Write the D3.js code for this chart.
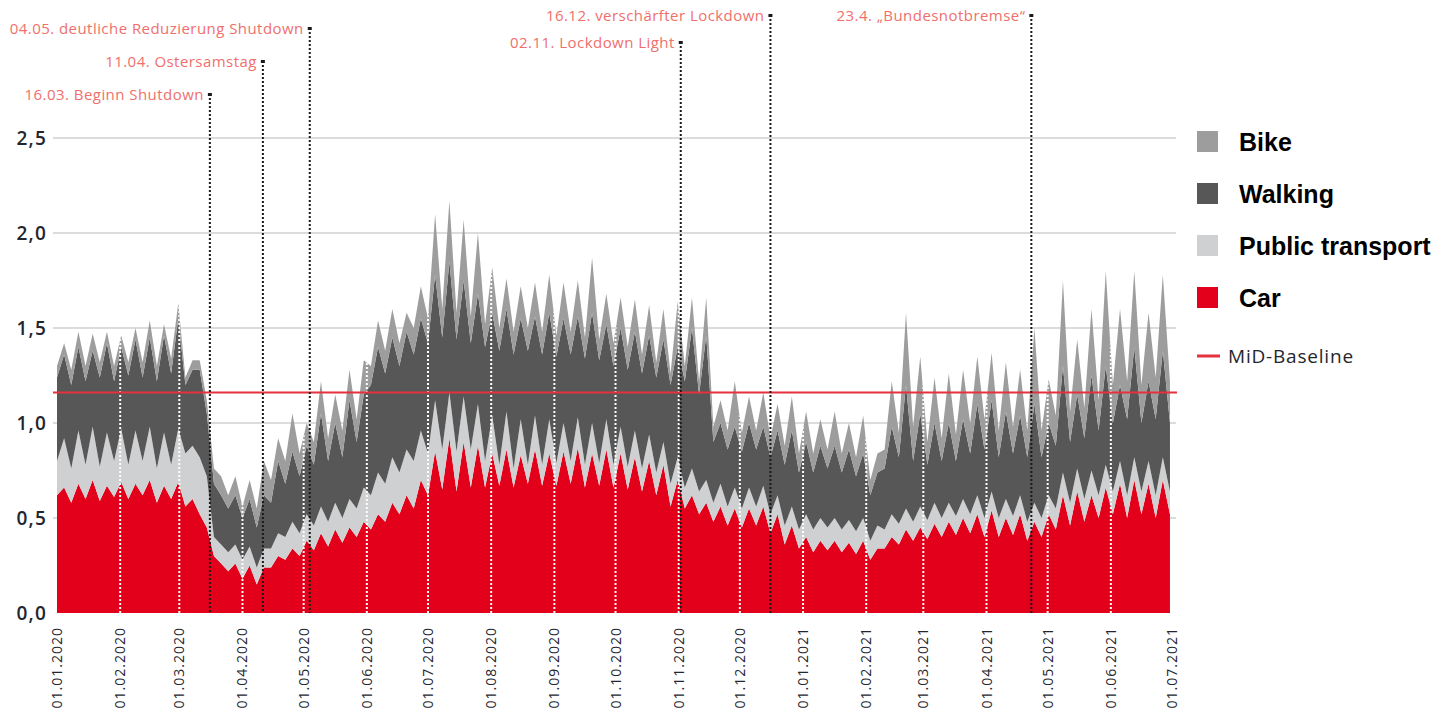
<!DOCTYPE html>
<html>
<head>
<meta charset="utf-8">
<script src="https://cdn.jsdelivr.net/npm/d3@7/dist/d3.min.js"></script>
<style>
  body { margin: 0; background: #fff; }
  svg text { font-family: "Open Sans", sans-serif; }
  svg text.legend { font-family: "Liberation Sans", Arial, sans-serif; }
</style>
</head>
<body>
<svg id="chart" width="1452" height="713"></svg>
<script>
// readings every 3.5 days starting 01.01.2020 (weekday level, weekend peak, ...)
var startDate = Date.UTC(2020, 0, 1);
var stepHours = 84;

var car = [
  .62,.66, .58,.68, .60,.70, .59,.67, .61,.69, .60,.68, .62,.70, .58,.67, .60,.69, .56,.60,
  .52,.45, .30,.26, .22,.26, .18,.25, .15,.24, .24,.30, .28,.34, .30,.38, .33,.42, .35,.44,
  .37,.45, .40,.48, .44,.52, .48,.58, .52,.62, .55,.70, .62,.85, .65,.92, .64,.90, .66,.88,
  .66,.84, .67,.86, .66,.83, .68,.86, .67,.84, .67,.85, .68,.87, .66,.84, .67,.86, .66,.84,
  .65,.82, .64,.80, .62,.78, .56,.70, .55,.62, .52,.58, .48,.56, .46,.55, .45,.55, .46,.56,
  .42,.52, .36,.46, .34,.40, .32,.38, .33,.38, .32,.37, .31,.38, .28,.34, .34,.40, .36,.44,
  .38,.45, .39,.47, .40,.48, .41,.50, .42,.52, .40,.54, .40,.50, .41,.52, .38,.48, .40,.52,
  .44,.62, .46,.64, .48,.62, .50,.66, .52,.68, .50,.70, .52,.68, .50,.70, .52
];
var publicTransport = [
  .18,.26, .18,.28, .18,.28, .18,.28, .19,.28, .18,.28, .18,.28, .18,.28, .18,.28, .28,.28,
  .30,.27, .10,.10, .10,.10, .10,.10, .09,.10, .10,.12, .12,.14, .12,.14, .13,.14, .13,.14,
  .13,.15, .15,.18, .18,.22, .20,.24, .22,.24, .25,.26, .22,.27, .21,.24, .21,.24, .20,.22,
  .14,.20, .11,.20, .10,.19, .10,.18, .11,.18, .12,.15, .12,.16, .12,.16, .12,.16, .12,.14,
  .12,.14, .12,.14, .12,.12, .12,.12, .11,.14, .12,.12, .10,.12, .10,.11, .10,.11, .10,.11,
  .10,.10, .10,.10, .10,.12, .12,.12, .12,.12, .12,.12, .12,.12, .10,.12, .10,.12, .11,.11,
  .10,.11, .10,.11, .10,.10, .10,.10, .10,.10, .10,.10, .10,.10, .10,.10, .10,.10, .10,.10,
  .11,.12, .12,.12, .12,.13, .12,.12, .12,.12, .12,.12, .12,.12, .12,.12, .12
];
var walking = [
  .44,.44, .44,.44, .44,.40, .47,.47, .42,.43, .47,.48, .44,.47, .46,.51, .48,.58, .36,.40,
  .46,.33, .28,.26, .23,.26, .22,.25, .21,.28, .24,.38, .28,.37, .30,.36, .32,.49, .32,.42,
  .32,.52, .35,.49, .58,.66, .58,.63, .56,.62, .56,.59, .58,.66, .59,.69, .59,.61, .56,.58,
  .60,.54, .60,.54, .60,.53, .60,.52, .58,.56, .56,.55, .56,.53, .56,.58, .54,.50, .52,.52,
  .51,.52, .50,.52, .50,.54, .52,.58, .56,.74, .51,.76, .32,.32, .30,.32, .30,.34, .30,.31,
  .30,.34, .32,.40, .30,.38, .30,.38, .31,.38, .30,.37, .29,.34, .24,.28, .32,.46, .35,.65,
  .32,.49, .29,.42, .30,.42, .29,.42, .32,.48, .36,.48, .32,.46, .33,.42, .34,.52, .32,.38,
  .33,.56, .32,.39, .32,.50, .34,.52, .36,.40, .40,.58, .36,.42, .40,.56, .36
];
var bike = [
  .06,.06, .08,.08, .08,.09, .08,.06, .08,.06, .07,.06, .08,.09, .08,.06, .08,.08, .04,.05,
  .05,.07, .08,.10, .07,.10, .06,.10, .10,.18, .12,.12, .12,.20, .12,.12, .12,.17, .12,.15,
  .14,.16, .12,.18, .10,.14, .12,.15, .12,.10, .14,.17, .13,.32, .15,.32, .14,.32, .14,.32,
  .12,.24, .12,.16, .12,.17, .12,.18, .12,.20, .11,.19, .12,.19, .11,.29, .11,.16, .12,.16,
  .12,.17, .10,.16, .08,.16, .06,.24, .08,.16, .07,.20, .08,.12, .10,.24, .10,.14, .10,.18,
  .10,.14, .10,.18, .10,.16, .10,.14, .10,.18, .10,.14, .10,.20, .08,.10, .10,.24, .13,.38,
  .18,.30, .12,.24, .12,.26, .14,.26, .16,.25, .16,.25, .14,.26, .14,.24, .14,.40, .14,.23,
  .16,.45, .16,.29, .16,.35, .16,.50, .20,.40, .20,.40, .20,.36, .22,.40, .22
];

var baselineValue = 1.16;
var yTicks = [0, 0.5, 1, 1.5, 2, 2.5];
var seriesKeys = ["car", "publicTransport", "walking", "bike"];
var seriesColors = ["#e2001a", "#cfd0d1", "#575757", "#9d9d9d"];
var legendNames = ["Bike", "Walking", "Public transport", "Car"];
var legendColors = ["#9d9d9d", "#575757", "#cfd0d1", "#e2001a"];

var eventDates = ["2020-03-16", "2020-04-11", "2020-05-04", "2020-11-02", "2020-12-16", "2021-04-23"];
var eventLabels = ["16.03. Beginn Shutdown", "11.04. Ostersamstag", "04.05. deutliche Reduzierung Shutdown",
                   "02.11. Lockdown Light", "16.12. verschärfter Lockdown", "23.4. \u201EBundesnotbremse\u201C"];

var svg = d3.select("#chart");

// build rows for the stack
var rows = [];
for (var i = 0; i < car.length; i++) {
  rows.push({
    date: new Date(startDate + i * stepHours * 3600e3),
    car: car[i], publicTransport: publicTransport[i], walking: walking[i], bike: bike[i]
  });
}

var x = d3.scaleUtc()
  .domain([new Date(Date.UTC(2020, 0, 1)), new Date(Date.UTC(2021, 6, 1))])
  .range([57, 1172]);
var y = d3.scaleLinear().domain([0, 2.5]).range([613, 138]);

var stacked = d3.stack().keys(seriesKeys)(rows);

// gridlines
svg.append("g").selectAll("line")
  .data(yTicks.slice(1))
  .enter().append("line")
  .attr("x1", 53).attr("x2", 1176)
  .attr("y1", function(d) { return y(d); }).attr("y2", function(d) { return y(d); })
  .attr("stroke", "#dcdcdc").attr("stroke-width", 2);

var area = d3.area()
  .x(function(d) { return x(d.data.date); })
  .y0(function(d) { return y(d[0]); })
  .y1(function(d) { return y(d[1]); });

svg.append("g").selectAll("path")
  .data(stacked)
  .enter().append("path")
  .attr("d", area)
  .attr("fill", function(d, i) { return seriesColors[i]; });

// white month lines inside the filled area (clip to the whole stack)
var fullArea = d3.area()
  .x(function(d) { return x(d.data.date); })
  .y0(y(0))
  .y1(function(d) { return y(d[1]); });
svg.append("clipPath").attr("id", "areaClip")
  .append("path").attr("d", fullArea(stacked[stacked.length - 1]));

var months = d3.utcMonth.range(x.domain()[0], d3.utcDay.offset(x.domain()[1], 1));
svg.append("g").attr("clip-path", "url(#areaClip)")
  .selectAll("line").data(months.slice(1))
  .enter().append("line")
  .attr("x1", function(d) { return x(d); }).attr("x2", function(d) { return x(d); })
  .attr("y1", y(0)).attr("y2", 130)
  .attr("stroke", "#fff").attr("stroke-width", 2).attr("stroke-dasharray", "2,2");

// MiD baseline
svg.append("line")
  .attr("x1", 53).attr("x2", 1177)
  .attr("y1", y(baselineValue)).attr("y2", y(baselineValue))
  .attr("stroke", "#e4323f").attr("stroke-width", 2);

// event markers
var parseDay = d3.utcParse("%Y-%m-%d");
var labelTop = [94, 61, 28, 42, 15, 15];
var ev = svg.append("g");
eventDates.forEach(function(ds, i) {
  var ex = x(parseDay(ds));
  ev.append("line")
    .attr("x1", ex).attr("x2", ex)
    .attr("y1", labelTop[i]).attr("y2", y(0))
    .attr("stroke", "#1a1a1a").attr("stroke-width", 2).attr("stroke-dasharray", "2,2");
  ev.append("rect")
    .attr("x", ex - 2).attr("y", labelTop[i] - 1).attr("width", 4).attr("height", 3)
    .attr("fill", "#1a1a1a");
  ev.append("text")
    .attr("x", ex - 6).attr("y", labelTop[i] + 6)
    .attr("text-anchor", "end")
    .attr("font-size", 15).attr("letter-spacing", 0.45).attr("fill", "#ef6f6c")
    .text(eventLabels[i]);
});

// y axis labels
svg.append("g").selectAll("text")
  .data(yTicks)
  .enter().append("text")
  .attr("x", 47).attr("y", function(d) { return y(d); })
  .attr("dy", "0.35em")
  .attr("text-anchor", "end")
  .attr("font-size", 19).attr("letter-spacing", 1.2).attr("font-weight", 600).attr("fill", "#23262e")
  .text(function(d) { return d3.format(".1f")(d).replace(".", ","); });

// x axis labels, rotated
var fmt = d3.utcFormat("%d.%m.%Y");
svg.append("g").selectAll("text")
  .data(months)
  .enter().append("text")
  .attr("transform", function(d) { return "translate(" + (x(d) + 5) + ",627) rotate(-90)"; })
  .attr("text-anchor", "end")
  .attr("font-size", 14).attr("letter-spacing", 1).attr("fill", "#23262e")
  .text(fmt);

// legend
var lg = svg.append("g").attr("transform", "translate(1197,131)");
legendNames.forEach(function(name, i) {
  lg.append("rect")
    .attr("x", 0).attr("y", i * 52).attr("width", 21).attr("height", 21)
    .attr("fill", legendColors[i]);
  lg.append("text")
    .attr("class", "legend")
    .attr("x", 42).attr("y", i * 52 + 11).attr("dy", "0.36em")
    .attr("font-size", 25).attr("font-weight", "bold").attr("fill", "#000")
    .text(name);
});
lg.append("line")
  .attr("x1", 0).attr("x2", 23).attr("y1", 225).attr("y2", 225)
  .attr("stroke", "#e4323f").attr("stroke-width", 3);
lg.append("text")
  .attr("x", 31).attr("y", 225).attr("dy", "0.35em")
  .attr("font-size", 19).attr("letter-spacing", 0.8).attr("fill", "#23262e")
  .text("MiD-Baseline");
</script>
</body>
</html>
